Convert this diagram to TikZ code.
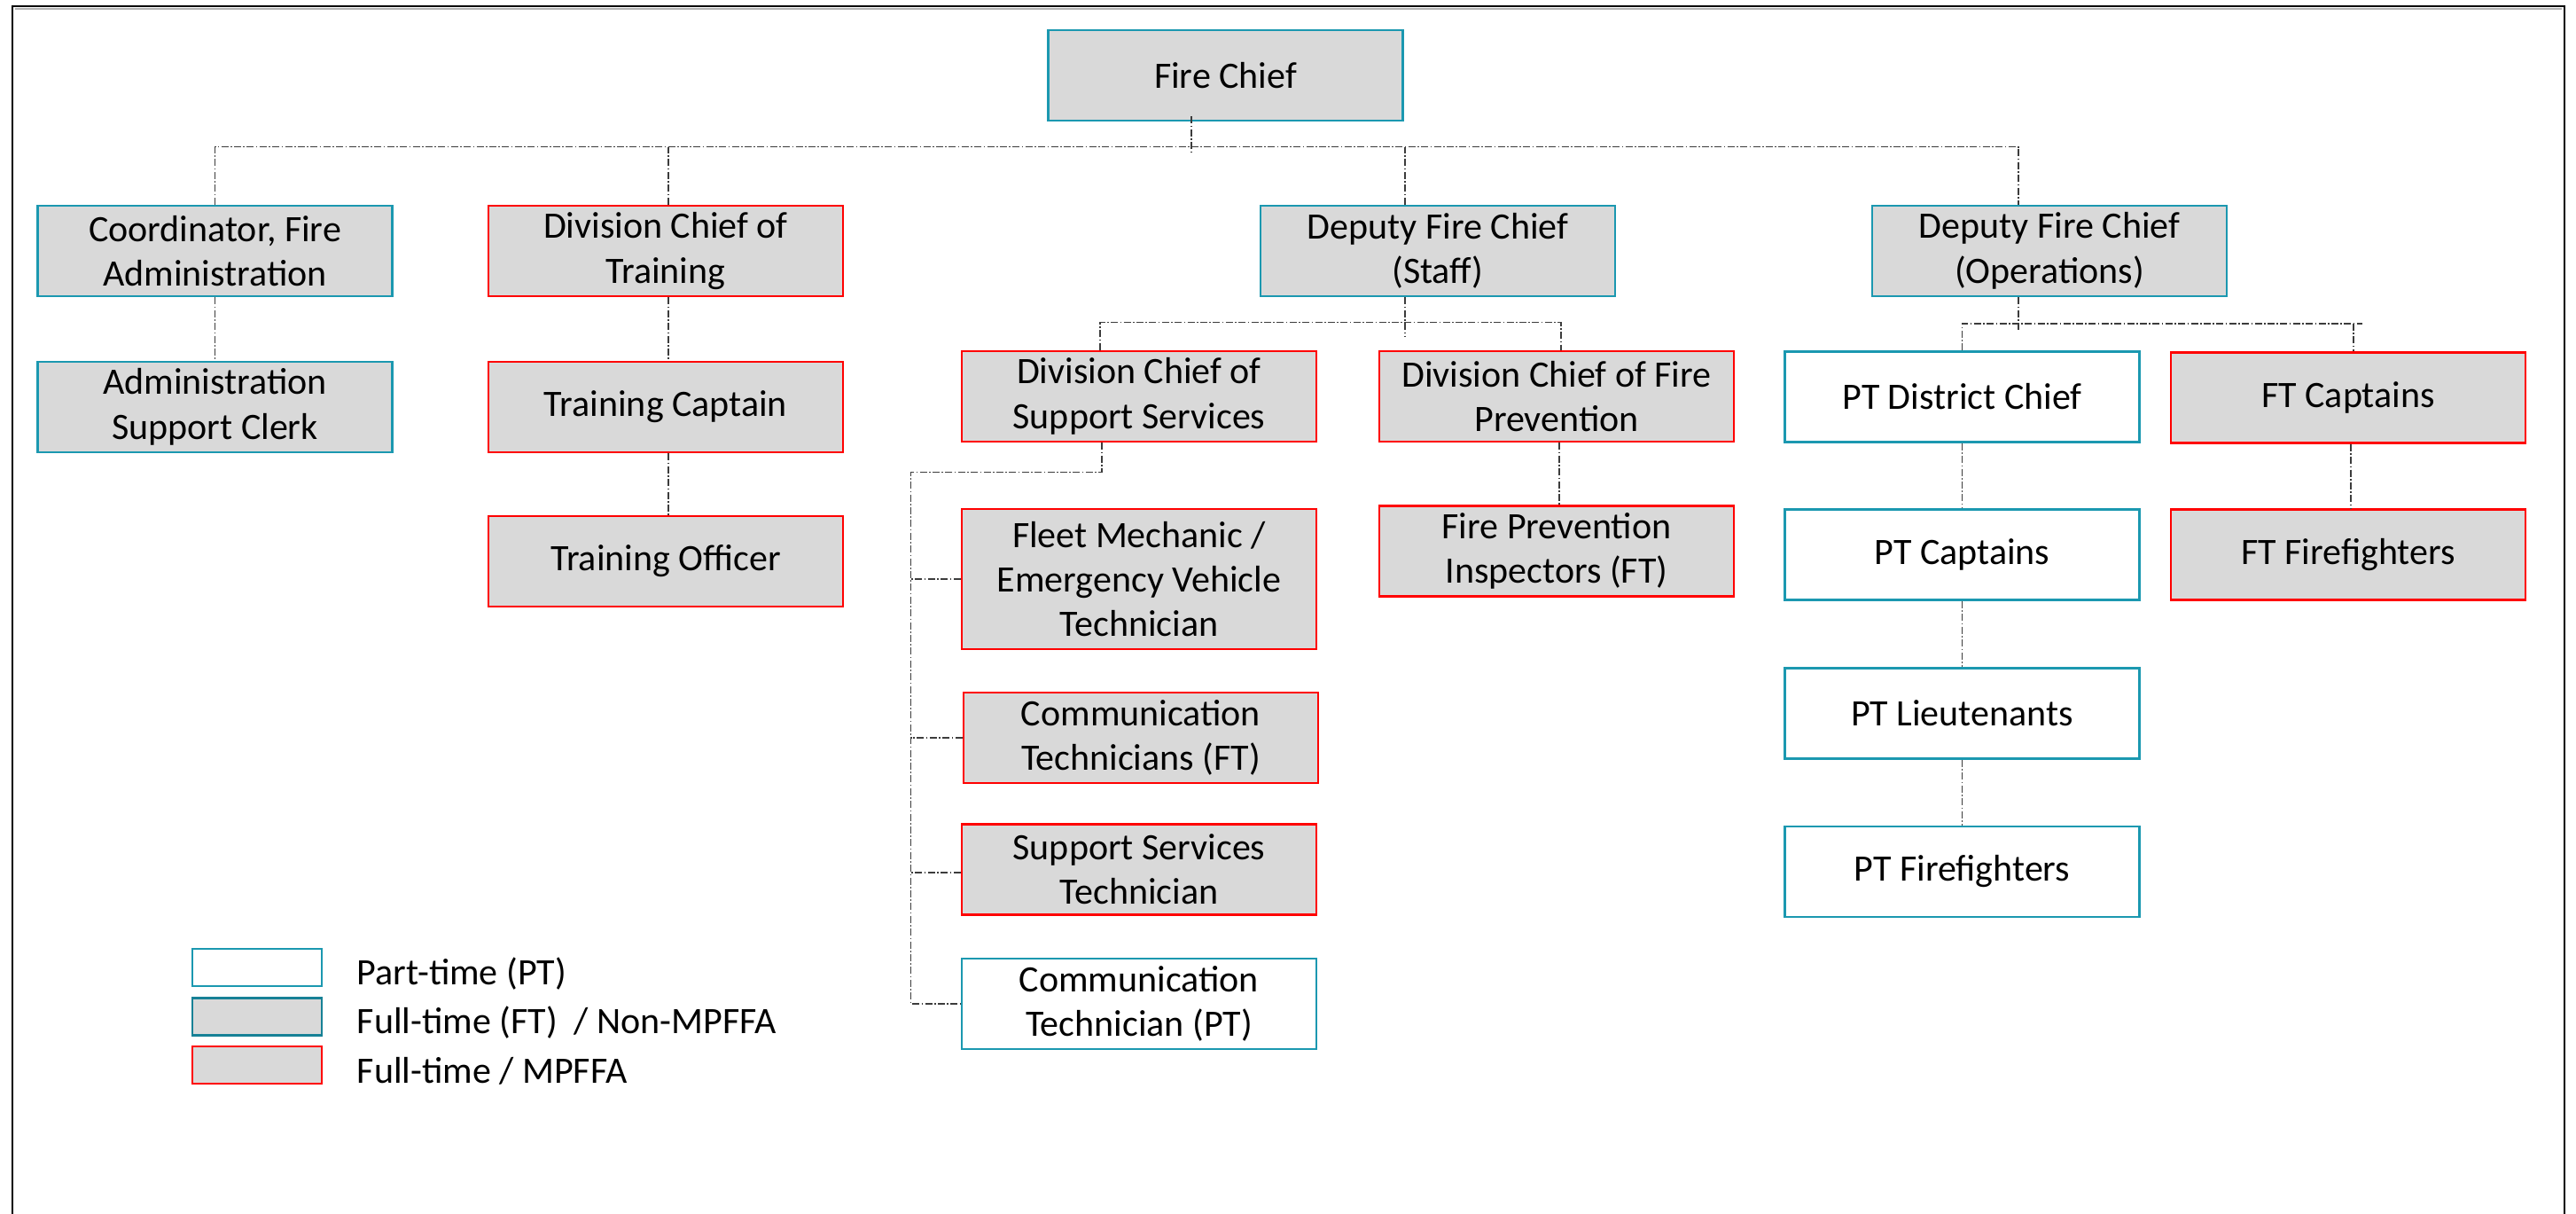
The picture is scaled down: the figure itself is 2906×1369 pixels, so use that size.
\documentclass[tikz,border=0pt]{standalone}
\usepackage{fontspec}
\setmainfont{Carlito}
\usetikzlibrary{calc}
\definecolor{tealb}{RGB}{27,152,176}
\definecolor{redb}{RGB}{255,0,0}
\definecolor{fillg}{RGB}{217,217,217}
\definecolor{connc}{RGB}{60,60,60}
\begin{document}
\begin{tikzpicture}[x=0.25pt,y=-0.25pt,
  orgbox/.style={font=\fontsize{10.5}{12.6}\selectfont, align=center, inner sep=0pt,
     minimum width=100pt, minimum height=25.5pt, line width=0.7pt},
  ptbox/.style={orgbox, draw=tealb, fill=white},
  ftbox/.style={orgbox, draw=tealb, fill=fillg},
  mpbox/.style={orgbox, draw=redb, fill=fillg},
  legbox/.style={inner sep=0pt, minimum width=36.5pt, minimum height=10.5pt, line width=0.7pt},
  legtext/.style={font=\fontsize{10.5}{12.6}\selectfont, anchor=west, inner sep=0pt},
  conn/.style={draw=connc, line width=0.4pt, dash pattern=on 2pt off 0.6pt on 0.4pt off 0.6pt},
  frame/.style={draw=black, line width=0.6pt}]
\clip (0,0) rectangle (2906,1369);
\fill[white] (0,0) rectangle (2906,1369);
% frame
\draw[frame] (14,1400) -- (14,7) -- (2893,7) -- (2893,1400);
\draw[gray!60, line width=0.3pt] (17,10) -- (2890,10);

% level 0
\node[ftbox] (chief) at (1382.5,85) {Fire Chief};
% level 1
\node[ftbox] (coord) at (242.5,283) {Coordinator, Fire\\Administration};
\node[mpbox] (train) at (751,283) {Division Chief of\\Training};
\node[ftbox] (staff) at (1622,283) {Deputy Fire Chief\\(Staff)};
\node[ftbox] (ops) at (2312,283) {Deputy Fire Chief\\(Operations)};
% coordinator branch
\node[ftbox] (clerk) at (242.5,459) {Administration\\Support Clerk};
% training branch
\node[mpbox] (tcapt) at (751,459) {Training Captain};
\node[mpbox] (toff) at (751,633) {Training Officer};
% staff branch
\node[mpbox] (dcsup) at (1285,447) {Division Chief of\\Support Services};
\node[mpbox] (dcfp) at (1756,447) {Division Chief of Fire\\Prevention};
\node[mpbox, minimum height=39.5pt] (fleet) at (1285,653) {Fleet Mechanic /\\Emergency Vehicle\\Technician};
\node[mpbox] (commft) at (1287,832) {Communication\\Technicians (FT)};
\node[mpbox] (suptech) at (1285,980.5) {Support Services\\Technician};
\node[ptbox] (commpt) at (1285,1132) {Communication\\Technician (PT)};
\node[mpbox] (fpi) at (1756,621.5) {Fire Prevention\\Inspectors (FT)};
% operations branch
\node[ptbox] (ptdc) at (2213.5,447.5) {PT District Chief};
\node[mpbox] (ftc) at (2649,448.5) {FT Captains};
\node[ptbox] (ptc) at (2213.5,625.5) {PT Captains};
\node[ptbox] (ptl) at (2213.5,804.5) {PT Lieutenants};
\node[ptbox] (ptf) at (2213.5,983) {PT Firefighters};
\node[mpbox] (ftf) at (2649,625.5) {FT Firefighters};

% connectors: top level
\draw[conn] ($(chief.south)+(-38.5,-6)$) -- ++(0,43);
\draw[conn] (coord.north) -- ++(0,-65) -| ($(ops.north)+(-35,0)$);
\draw[conn] ($(train.north)+(3,0)$) -- ++(0,-65);
\draw[conn] ($(staff.north)+(-37,0)$) -- ++(0,-65);
% coordinator and training chains
\draw[conn] (coord.south) -- (clerk.north);
\draw[conn] ($(train.south)+(3,0)$) -- ($(tcapt.north)+(3,0)$);
\draw[conn] ($(tcapt.south)+(3,0)$) -- ($(toff.north)+(3,0)$);
% staff
\draw[conn] ($(staff.south)+(-37,0)$) -- ++(0,44);
\draw[conn] ($(dcsup.north)+(-44,0)$) |- ($(dcfp.north)+(5,-31)$) -- ($(dcfp.north)+(5,0)$);
\draw[conn] ($(dcsup.south)+(-42,0)$) -- ++(0,33) -| ($(commpt.west)+(-56,0)$) -- (commpt.west);
\draw[conn] (fleet.west) -- ++(-56,0);
\draw[conn] (commft.west) -- ++(-58,0);
\draw[conn] ($(suptech.west)+(0,3.5)$) -- ++(-56,0);
\draw[conn] ($(dcfp.south)+(3,0)$) -- ($(fpi.north)+(3,0)$);
% operations
\draw[conn] ($(ops.south)+(-35,0)$) -- ++(0,38);
\draw[conn] (ptdc.north) |- ($(ftc.north)+(16,-31)$);
\draw[conn] ($(ftc.north)+(6,-31)$) -- ($(ftc.north)+(6,0)$);
\draw[conn] (ptdc.south) -- (ptc.north);
\draw[conn] (ptc.south) -- (ptl.north);
\draw[conn] (ptl.south) -- (ptf.north);
\draw[conn] ($(ftc.south)+(3,0)$) -- ($(ftf.north)+(3,0)$);

% legend
\node[legbox, draw=tealb, fill=white] (lg1) at (290,1091) {};
\node[legbox, draw=tealb!85!black, fill=fillg] (lg2) at (290,1146.5) {};
\node[legbox, draw=redb, fill=fillg] (lg3) at (290,1201) {};
\node[legtext] (lt1) at (402,1098) {Part-time (PT)};
\node[legtext] (lt2) at (402,1153) {Full-time (FT)\ \ / Non-MPFFA};
\node[legtext] (lt3) at (402,1208) {Full-time / MPFFA};
\end{tikzpicture}
\end{document}
